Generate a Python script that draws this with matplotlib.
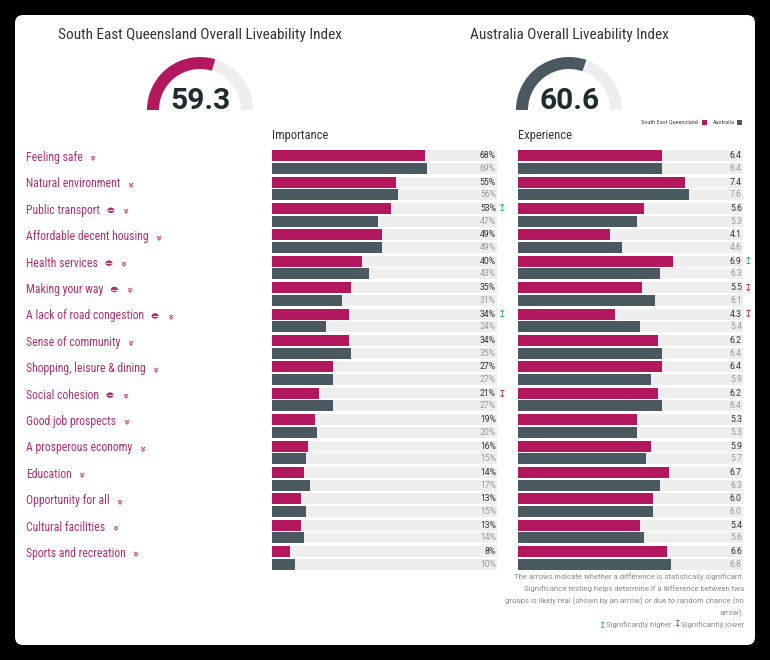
import numpy as np
import matplotlib
matplotlib.use("Agg")
import matplotlib.pyplot as plt
from matplotlib.patches import FancyBboxPatch, Wedge, Rectangle, Ellipse

# Данные
categories = ["Feeling safe", "Natural environment", "Public transport",
              "Affordable decent housing", "Health services", "Making your way",
              "A lack of road congestion", "Sense of community",
              "Shopping, leisure & dining", "Social cohesion", "Good job prospects",
              "A prosperous economy", "Education", "Opportunity for all",
              "Cultural facilities", "Sports and recreation"]
has_icon = [0, 0, 1, 0, 1, 1, 1, 0, 0, 1, 0, 0, 0, 0, 0, 0]

imp_seq = [68, 55, 53, 49, 40, 35, 34, 34, 27, 21, 19, 16, 14, 13, 13, 8]
imp_aus = [69, 56, 47, 49, 43, 31, 24, 35, 27, 27, 20, 15, 17, 15, 14, 10]
imp_sig = [0, 0, 1, 0, 0, 0, 1, 0, 0, -1, 0, 0, 0, 0, 0, 0]

exp_seq = [6.4, 7.4, 5.6, 4.1, 6.9, 5.5, 4.3, 6.2, 6.4, 6.2, 5.3, 5.9, 6.7, 6.0, 5.4, 6.6]
exp_aus = [6.4, 7.6, 5.3, 4.6, 6.3, 6.1, 5.4, 6.4, 5.9, 6.4, 5.3, 5.7, 6.3, 6.0, 5.6, 6.8]
exp_sig = [0, 0, 0, 0, 1, -1, -1, 0, 0, 0, 0, 0, 0, 0, 0, 0]

index_seq = 59.3
index_aus = 60.6

PINK = "#B3185F"
DARK = "#4A5960"
TRACK = "#EEEEEE"
LABEL = "#B52D6C"
GREEN = "#2FA878"
RED = "#C73340"
NOTE = "#8A8A8A"

plt.rcParams["font.family"] = ["Roboto Condensed", "Liberation Sans Narrow", "Roboto", "DejaVu Sans"]
PLAIN = ["Roboto", "DejaVu Sans"]

W, H = 770, 660
fig = plt.figure(figsize=(W / 100, H / 100), dpi=100, facecolor="black")

# Фон в пикселях
bg = fig.add_axes([0, 0, 1, 1])
bg.set_xlim(0, W)
bg.set_ylim(H, 0)
bg.axis("off")
bg.add_patch(FancyBboxPatch((15, 15), 740, 630, boxstyle="round,pad=0,rounding_size=8",
                            fc="white", ec="none"))


def gauge(cx, value, color, title):
    cy = 110
    bg.add_patch(Wedge((cx, cy), 53, 180, 360, width=12, fc=TRACK, ec="none"))
    bg.add_patch(Wedge((cx, cy), 53, 180, 180 + value / 100 * 180, width=12, fc=color, ec="none"))
    bg.text(cx + 1, 109, f"{value}", ha="center", va="baseline", fontsize=21.5,
            weight="bold", color="#1E2B30", family=PLAIN)
    bg.text(cx, 35, title, ha="center", va="center", fontsize=11, color="#333333")


gauge(200, index_seq, PINK, "South East Queensland Overall Liveability Index")
gauge(569, index_aus, DARK, "Australia Overall Liveability Index")

# Легенда
bg.text(698, 122, "South East Queensland", ha="right", va="center", fontsize=4.5, color="#444444")
bg.add_patch(Rectangle((702, 120), 4.5, 4.5, fc=PINK))
bg.text(735, 122, "Australia", ha="right", va="center", fontsize=4.5, color="#444444")
bg.add_patch(Rectangle((737, 120), 4.5, 4.5, fc=DARK))

bg.text(272, 136, "Importance", va="center", fontsize=9, color="#333333")
bg.text(518, 136, "Experience", va="center", fontsize=9, color="#333333")

# Строим бары
y = np.arange(len(categories))
top = 148.8
pitch = 26.4
h_px = pitch * len(categories)


def panel(x0, x1, xmax, seq, aus, sig, fmt):
    ax = fig.add_axes([x0 / W, 1 - (top + h_px) / H, (x1 - x0) / W, h_px / H])
    ax.set_xlim(0, xmax)
    ax.set_ylim(len(categories) - 0.5, -0.5)
    ax.axis("off")
    ax.barh(y - 0.24, xmax, height=0.42, color=TRACK)
    ax.barh(y + 0.24, xmax, height=0.42, color=TRACK)
    ax.barh(y - 0.24, seq, height=0.42, color=PINK)
    ax.barh(y + 0.24, aus, height=0.42, color=DARK)
    for i in y:
        ax.text(xmax * 0.995, i - 0.24, fmt(seq[i]), ha="right", va="center",
                fontsize=6.2, color="#333333", family=PLAIN)
        ax.text(xmax * 0.995, i + 0.24, fmt(aus[i]), ha="right", va="center",
                fontsize=6.2, color="#9A9A9A", family=PLAIN)
        if sig[i] != 0:
            ax.text(xmax * 1.025, i - 0.24, "↥" if sig[i] > 0 else "↧", ha="center",
                    va="center", fontsize=7.5, color=GREEN if sig[i] > 0 else RED,
                    family=["DejaVu Sans"])
    return ax


panel(272, 497, 100, imp_seq, imp_aus, imp_sig, lambda v: f"{v}%")
panel(518, 743, 10, exp_seq, exp_aus, exp_sig, lambda v: f"{v:.1f}")

# Подписи категорий
renderer = fig.canvas.get_renderer()
for i, name in enumerate(categories):
    ly = top + pitch * (i + 0.5) - 4.5
    t = bg.text(26, ly, name, va="center", fontsize=8.5, color=LABEL)
    x_end = t.get_window_extent(renderer).x1
    cx = x_end + 9
    if has_icon[i]:
        bg.add_patch(Ellipse((x_end + 11, ly), 7, 5.5, fc=LABEL, ec="none"))
        bg.plot([x_end + 8.5, x_end + 13.5], [ly, ly], color="white", lw=0.6)
        cx = x_end + 25
    bg.text(cx, ly, "»", rotation=-90, ha="center", va="center",
            fontsize=7, weight="bold", color=LABEL, family=["DejaVu Sans"])

# Примечание
note = ["The arrows indicate whether a difference is statistically significant.",
        "Significance testing helps determine if a difference between two",
        "groups is likely real (shown by an arrow) or due to random chance (no",
        "arrow)."]
for k, line in enumerate(note):
    bg.text(744, 577 + 12 * k, line, ha="right", va="center", fontsize=5.55,
            color=NOTE, family=PLAIN)

t = bg.text(744, 625, "Significantly lower", ha="right", va="center", fontsize=5.55,
            color=NOTE, family=PLAIN)
x = t.get_window_extent(renderer).x0
bg.text(x - 4, 625, "↧", ha="center", va="center", fontsize=6.5, color=RED, family=["DejaVu Sans"])
t = bg.text(x - 9, 625, "Significantly higher", ha="right", va="center", fontsize=5.55,
            color=NOTE, family=PLAIN)
x = t.get_window_extent(renderer).x0
bg.text(x - 4, 625, "↥", ha="center", va="center", fontsize=6.5, color=GREEN, family=["DejaVu Sans"])

plt.savefig("out.png", dpi=100, facecolor="black")
plt.close()
